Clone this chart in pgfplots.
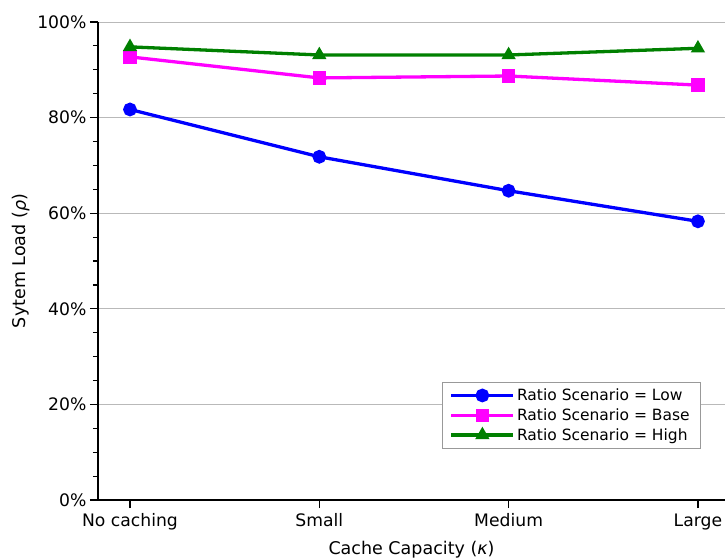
\documentclass[border=0pt]{standalone}
\usepackage{pgfplots}
\pgfplotsset{compat=1.18}
\usepackage{fontspec}
\setmainfont{DejaVu Sans}
\definecolor{cgreen}{RGB}{0,128,0}
\definecolor{cmag}{RGB}{255,0,255}
\definecolor{cblue}{RGB}{0,0,255}
\begin{document}
\begin{tikzpicture}
\begin{axis}[
  scale only axis,
  width=627pt, height=478pt,
  xmin=-0.169, xmax=3.143,
  ymin=0, ymax=100,
  axis x line*=bottom, axis y line*=left,
  axis line style={line width=1.2pt},
  xtick={0,1,2,3},
  xticklabels={No caching,Small,Medium,Large},
  ytick={0,20,40,60,80,100},
  minor y tick num=3,
  yticklabel={\pgfmathprintnumber[assume math mode=true]{\tick}\%},
  tick style={black, line width=1.2pt},
  major tick length=8pt, minor tick length=5pt,
  tick align=outside,
  ymajorgrids,
  major grid style={gray!55, line width=0.8pt},
  ticklabel style={font=\fontsize{17.2}{20}\selectfont},
  xticklabel style={yshift=-2pt},
  label style={font=\fontsize{17.5}{20}\selectfont},
  xlabel={Cache Capacity ({\itshape κ})},
  ylabel={Sytem Load ({\itshape ρ})},
  xlabel style={yshift=-4pt},
  ylabel style={yshift=1pt},
  legend style={at={(0.960,0.107)}, anchor=south east, font=\fontsize{15.5}{17}\selectfont,
    draw=gray!80, row sep=2.5pt, inner xsep=8pt, inner ysep=5pt},
  legend cell align=left,
  legend image code/.code={\draw[line width=3.3pt, mark repeat=2,mark phase=2] plot coordinates {(0pt,0pt) (31pt,0pt) (62pt,0pt)};},
  clip=false,
]
\coordinate (sw) at (rel axis cs:0,0);
\coordinate (ne) at (rel axis cs:1,1);
\addplot[cblue, line width=3.3pt, mark=*, mark size=5.2pt] coordinates {(0,81.7) (1,71.8) (2,64.7) (3,58.3)};
\addlegendentry{Ratio Scenario = Low}
\addplot[cmag, line width=3.3pt, mark=square*, mark size=5pt] coordinates {(0,92.7) (1,88.3) (2,88.7) (3,86.8)};
\addlegendentry{Ratio Scenario = Base}
\addplot[cgreen, line width=3.3pt, mark=triangle*, mark size=5pt] coordinates {(0,94.8) (1,93.1) (2,93.1) (3,94.5)};
\addlegendentry{Ratio Scenario = High}
\end{axis}
\pgfresetboundingbox
\path ([shift={(-98pt,-58pt)}]sw) rectangle ([shift={(0pt,22pt)}]ne);
\end{tikzpicture}
\end{document}
